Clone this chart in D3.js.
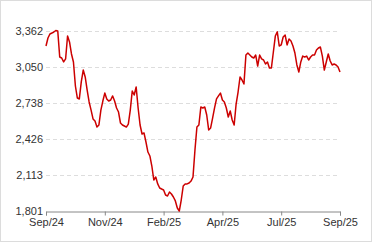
<!DOCTYPE html>
<html><head><meta charset="utf-8">
<script src="https://cdn.jsdelivr.net/npm/d3@7"></script>
<style>body{margin:0;background:#fff}svg{display:block}</style>
</head><body>
<svg id="c" width="373" height="244"></svg>
<script>
const values = [
3228,3297,3332,3340,3349,3362,3358,3133,3124,3090,
3116,3314,3263,3159,3090,2882,2778,2770,2917,3020,
2960,2847,2744,2674,2597,2579,2527,2545,2674,2752,
2821,2770,2752,2761,2796,2752,2692,2657,2562,2545,
2536,2527,2553,2674,2839,2804,2873,2692,2545,2467,
2476,2398,2311,2277,2190,2069,2095,2035,2000,1991,
1983,1939,1931,1965,1948,1922,1888,1827,1801,1896,
2017,2035,2035,2043,2060,2095,2329,2527,2545,2700,
2692,2700,2631,2502,2519,2605,2692,2770,2796,2821,
2761,2744,2692,2614,2666,2588,2545,2726,2830,2960,
2934,2899,3150,3167,3150,3133,3124,3150,3055,3150,
3116,3107,3072,3090,3038,3038,3176,3314,3350,3228,
3237,3306,3323,3237,3288,3271,3228,3167,3064,3003,
3090,3141,3133,3141,3107,3133,3150,3150,3193,3211,
3219,3141,3020,3090,3159,3098,3064,3072,3064,3046,
3003
];
const yTicks = [1801, 2113, 2426, 2738, 3050, 3362];
const xTickIdx = [0, 30, 60, 90, 120, 150];
const xTickLabels = ["Sep/24", "Nov/24", "Feb/25", "Apr/25", "Jul/25", "Sep/25"];

const svg = d3.select("#c");
const m = {l: 46, r: 33, t: 30.5, b: 33};
const W = 373, H = 244;
const x = d3.scaleLinear().domain([0, values.length - 1]).range([m.l, W - m.r]);
const y = d3.scaleLinear().domain([1801, 3362]).range([211, 30.5]);

svg.append("rect").attr("x", 0.5).attr("y", 0.5).attr("width", 371).attr("height", 241)
  .attr("fill", "#fff").attr("stroke", "#dcdcdc");

// grid
svg.append("g").selectAll("line").data(yTicks.slice(1)).join("line")
  .attr("x1", m.l).attr("x2", W - m.r)
  .attr("y1", d => Math.round(y(d)) + 0.5).attr("y2", d => Math.round(y(d)) + 0.5)
  .attr("stroke", "#dddddd").attr("stroke-dasharray", "4,3");

// y labels
svg.append("g").selectAll("text").data(yTicks).join("text")
  .attr("x", 43).attr("y", d => y(d) + 4)
  .attr("text-anchor", "end")
  .attr("font-family", "Liberation Sans, Arial, sans-serif").attr("font-size", 11)
  .attr("fill", "#333").text(d => d3.format(",")(d));

// x axis
const xa = d3.axisBottom(x).tickValues(xTickIdx).tickFormat((d, i) => xTickLabels[i])
  .tickSizeOuter(0).tickSize(4).tickPadding(3);
const gx = svg.append("g").attr("transform", "translate(0,211.5)").call(xa);
gx.select(".domain").attr("stroke", "#888");
gx.selectAll(".tick line").attr("stroke", "#888");
gx.selectAll("text").attr("font-family", "Liberation Sans, Arial, sans-serif")
  .attr("font-size", 11).attr("fill", "#333");

// line
const line = d3.line().x((d, i) => x(i)).y(d => y(d));
svg.append("path").datum(values).attr("d", line)
  .attr("fill", "none").attr("stroke", "#cc0000").attr("stroke-width", 1.5)
  .attr("stroke-linejoin", "round");
</script>
</body></html>
